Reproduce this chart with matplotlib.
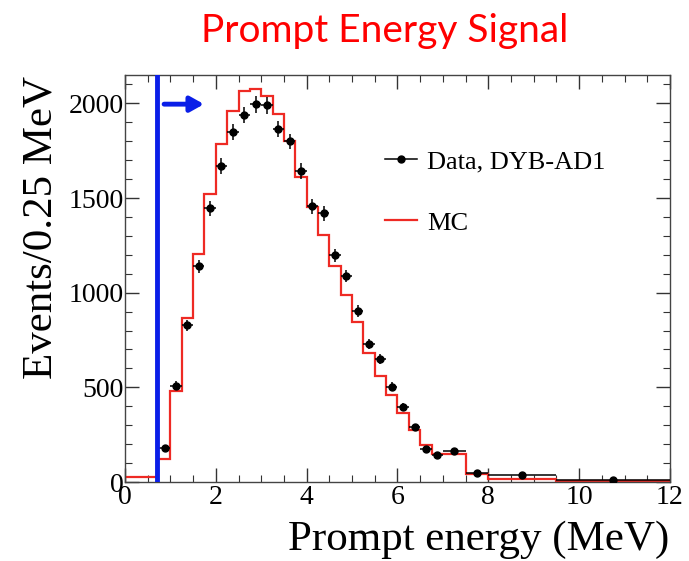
import numpy as np
import matplotlib
matplotlib.use("Agg")
import matplotlib.pyplot as plt
from matplotlib.lines import Line2D
from matplotlib.ticker import MultipleLocator

# MC histogram (bin edges in MeV, events per 0.25 MeV)
mc_edges = [0.0, 0.7, 1.0, 1.25, 1.5, 1.75, 2.0, 2.25, 2.5, 2.75, 3.0, 3.25,
            3.5, 3.75, 4.0, 4.25, 4.5, 4.75, 5.0, 5.25, 5.5, 5.75, 6.0, 6.25,
            6.5, 6.75, 7.0, 7.5, 8.0, 9.5, 12.0]
mc_counts = [27, 120, 479, 868, 1207, 1519, 1786, 1962, 2067, 2075, 2037,
             1944, 1799, 1610, 1454, 1305, 1143, 990, 845, 684, 562, 457,
             364, 273, 194, 147, 147, 42, 14, 5]

# data points, DYB-AD1
data_x = [0.875, 1.125, 1.375, 1.625, 1.875, 2.125, 2.375, 2.625, 2.875,
          3.125, 3.375, 3.625, 3.875, 4.125, 4.375, 4.625, 4.875, 5.125,
          5.375, 5.625, 5.875, 6.125, 6.375, 6.625, 6.875, 7.25, 7.75,
          8.75, 10.75]
data_y = [182, 509, 829, 1140, 1445, 1668, 1848, 1939, 1996, 1990, 1865,
          1799, 1642, 1456, 1419, 1198, 1088, 903, 731, 652, 504, 395, 290,
          173, 142, 164, 47, 37, 12]
data_xerr = [0.125] * 25 + [0.25, 0.25, 0.75, 1.25]
data_yerr = [14, 23, 29, 34, 38, 41, 43, 44, 45, 45, 43, 42, 41, 38, 38,
             35, 33, 30, 27, 26, 22, 20, 17, 13, 12, 9, 5, 3, 2]

cut_energy = 0.7

serif = "Liberation Serif"
red = "#ee2a24"
blue = "#0a1ee8"

fig = plt.figure(figsize=(6.89, 5.61), dpi=100)
ax = fig.add_axes([0.1814, 0.1408, 0.791, 0.7255])

ax.stairs(mc_counts, mc_edges, color=red, lw=1.6, zorder=2)
ax.errorbar(data_x, data_y, xerr=data_xerr, yerr=data_yerr, fmt="o",
            color="black", ms=5, elinewidth=1.1, capsize=0, zorder=3)

ax.axvline(cut_energy, color=blue, lw=3.5, zorder=4)
ax.annotate("", xy=(1.8, 1996), xytext=(0.8, 1996),
            arrowprops=dict(arrowstyle="-|>,head_length=0.8,head_width=0.45",
                            color=blue, lw=3.5))

ax.set_xlim(0, 12)
ax.set_ylim(0, 2150)
ax.xaxis.set_major_locator(MultipleLocator(2))
ax.xaxis.set_minor_locator(MultipleLocator(0.5))
ax.yaxis.set_major_locator(MultipleLocator(500))
ax.yaxis.set_minor_locator(MultipleLocator(100))
ax.tick_params(which="both", direction="in", top=True, right=True,
               colors="#333333", labelcolor="black")
ax.tick_params(which="major", length=10, width=1)
ax.tick_params(which="minor", length=5, width=0.8)
ax.tick_params(axis="x", pad=2)
ax.tick_params(axis="y", pad=1)
for lab in ax.get_xticklabels() + ax.get_yticklabels():
    lab.set_fontfamily(serif)
    lab.set_fontsize(20)
for s in ax.spines.values():
    s.set_color("#444444")
    s.set_linewidth(1)

fig.text(0.971, 0.02, "Prompt energy (MeV)", ha="right", va="baseline",
         family=serif, fontsize=31)
fig.text(0.06, 0.595, "Events/0.25 MeV", ha="center", va="center",
         rotation=90, family=serif, fontsize=31)

handles = [Line2D([], [], color="black", marker="o", ms=5, lw=1.1),
           Line2D([], [], color=red, lw=1.6)]
ax.legend(handles, ["Data, DYB-AD1", "MC"], loc="upper left",
          bbox_to_anchor=(0.54, 0.757), bbox_transform=fig.transFigure,
          frameon=False, borderpad=0, handlelength=1.2,
          labelspacing=1.45, handletextpad=0.4,
          prop={"family": serif, "size": 19})

fig.text(0.559, 0.925, "Prompt Energy Signal", ha="center", va="baseline",
         color="#ff0000", family="Lato", fontsize=28)

fig.savefig("out.png", dpi=100)
